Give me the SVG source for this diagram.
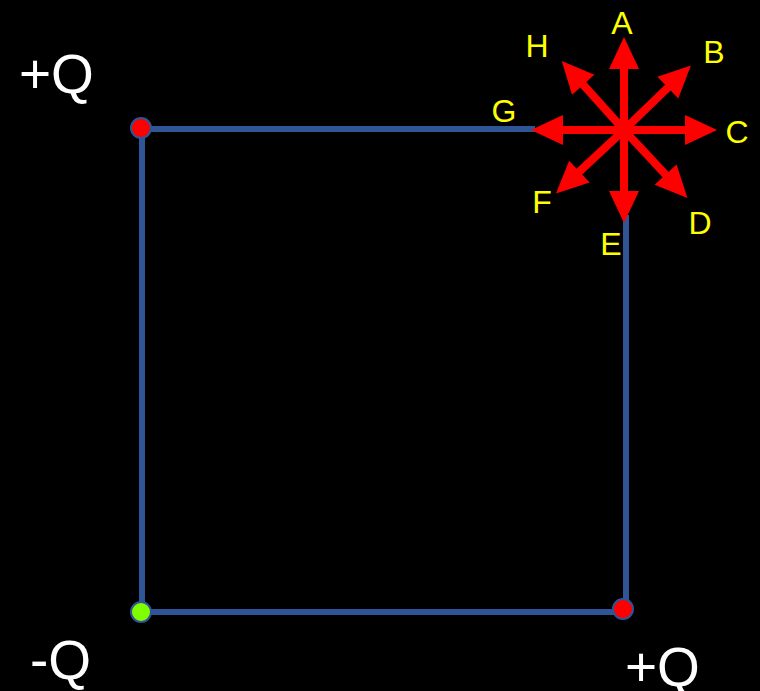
<svg xmlns="http://www.w3.org/2000/svg" width="760" height="691" viewBox="0 0 760 691">
<defs>
<style>
.edge{stroke:#2F5597;stroke-width:6;fill:none}
.node{stroke:#2F5597;stroke-width:2}
.lbl{fill:#FFFF00;font-family:"Liberation Sans",Arial,sans-serif;font-size:32px;text-anchor:middle}
.q{fill:#FFFFFF;font-family:"Liberation Sans",Arial,sans-serif;font-size:55px}
.shaft{stroke:#FF0000;stroke-width:8}
.head{fill:#FF0000}
</style>
<g id="arrow">
<line class="shaft" x1="0" y1="0" x2="0" y2="-66"/>
<polygon class="head" points="0,-93 15,-61 -15,-61"/>
</g>
</defs>
<rect width="760" height="691" fill="#000000"/>
<g id="connectors">
<line class="edge" x1="142" y1="129" x2="535" y2="129"/>
<line class="edge" x1="142" y1="129" x2="142" y2="612"/>
<line class="edge" x1="142" y1="612" x2="623" y2="612"/>
<line class="edge" x1="626" y1="215" x2="626" y2="609"/>
</g>
<g id="node-topleft"><circle class="node" cx="141" cy="128" r="10" fill="#FF0000"/></g>
<g id="node-bottomleft"><circle class="node" cx="141" cy="612" r="10" fill="#80FF00"/></g>
<g id="node-bottomright"><circle class="node" cx="623" cy="609" r="10" fill="#FF0000"/></g>
<g id="star" transform="translate(624,130)">
<use href="#arrow"/>
<use href="#arrow" transform="rotate(46)"/>
<use href="#arrow" transform="rotate(90)"/>
<use href="#arrow" transform="rotate(137)"/>
<use href="#arrow" transform="rotate(180)"/>
<use href="#arrow" transform="rotate(227)"/>
<use href="#arrow" transform="rotate(270)"/>
<use href="#arrow" transform="rotate(318)"/>
</g>
<g id="labels">
<text class="lbl" x="622" y="34">A</text>
<text class="lbl" x="714" y="63">B</text>
<text class="lbl" x="737" y="143">C</text>
<text class="lbl" x="700" y="234">D</text>
<text class="lbl" x="611" y="255">E</text>
<text class="lbl" x="542" y="213">F</text>
<text class="lbl" x="504" y="122">G</text>
<text class="lbl" x="537" y="57">H</text>
</g>
<g id="charges">
<text class="q" x="19" y="93">+Q</text>
<text class="q" x="30" y="679">-Q</text>
<text class="q" x="625" y="686">+Q</text>
</g>
</svg>
